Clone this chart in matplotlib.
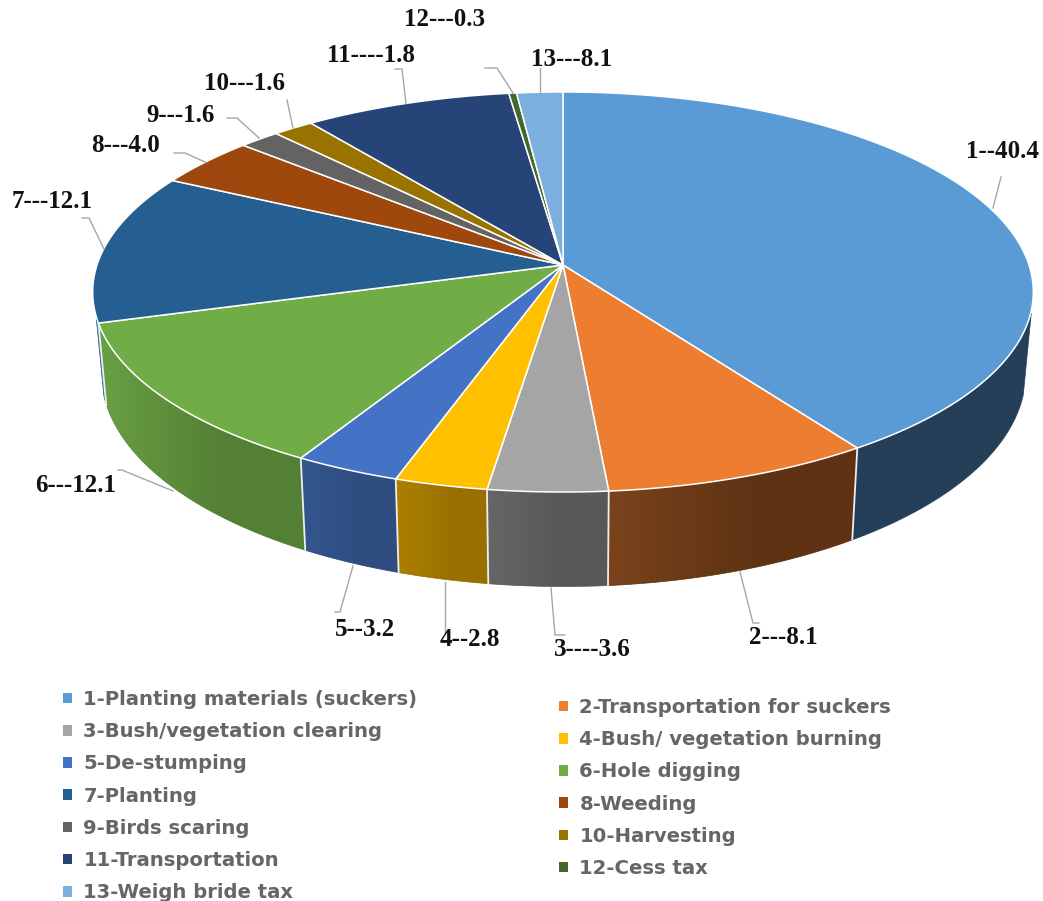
import numpy as np
import matplotlib
matplotlib.use("Agg")
import matplotlib.pyplot as plt
from matplotlib.collections import PolyCollection
from matplotlib.patches import Polygon, Patch

# ---- data ----
categories = ["1-Planting materials (suckers)", "2-Transportation for suckers",
              "3-Bush/vegetation clearing", "4-Bush/ vegetation burning",
              "5-De-stumping", "6-Hole digging", "7-Planting", "8-Weeding",
              "9-Birds scaring", "10-Harvesting", "11-Transportation",
              "12-Cess tax", "13-Weigh bride tax"]
# slice sizes as drawn (the source's labels for slices 11 and 13 are swapped)
drawn_values = [40.4, 8.1, 3.6, 2.8, 3.2, 12.1, 12.1, 4.0, 1.6, 1.6, 8.1, 0.3, 1.8]
value_labels = ["1--40.4", "2---8.1", "3----3.6", "4--2.8", "5--3.2", "6---12.1",
                "7---12.1", "8---4.0", "9---1.6", "10---1.6", "11----1.8",
                "12---0.3", "13---8.1"]

# ---- styles ----
top_colors = ["#5b9bd5", "#ed7d31", "#a5a5a5", "#ffc000", "#4472c4", "#70ad47",
              "#255e91", "#9e480e", "#636363", "#997300", "#264478", "#43682b", "#7cafdd"]
side_left = ["#243f57", "#7b431c", "#666666", "#ad8000", "#33568f", "#69a044",
             "#386da4", "#6b3109", "#444444", "#685000", "#1a2f52", "#2e471d", "#557a9b"]
side_right = ["#243f57", "#5e3213", "#585858", "#987000", "#2f4d80", "#548035",
              "#386da4", "#6b3109", "#444444", "#685000", "#1a2f52", "#2e471d", "#557a9b"]

label_pos = [(1003, 152), (783, 638), (592, 650), (470, 639), (365, 629), (76, 486),
             (52, 201), (126, 146), (181, 116), (244, 83), (371, 55), (445, 20), (572, 59)]
leaders = [[(993, 208), (1001, 177)],
           [(740, 572), (753, 623), (759, 623)],
           [(551, 588), (555, 635), (565, 635)],
           [(445, 582), (445, 633)],
           [(353, 566), (340, 612), (335, 612)],
           [(173, 491), (122, 470), (118, 470)],
           [(104, 249), (89, 218), (82, 218)],
           [(205, 162), (185, 153), (174, 153)],
           [(259, 138), (237, 118), (227, 118)],
           [(293, 128), (287, 100)],
           [(406, 103), (402, 69), (395, 69)],
           [(513, 93), (497, 68), (485, 68)],
           [(540, 93), (540, 68)]]

# perspective of the disc, in figure pixels
CX, CY, R = 563.0, 265.0, 466.0
A, C = 160.6, -0.135


def rim(t):
    """Top-rim point for clockwise angle t (radians) measured from the top."""
    u = -np.cos(t)
    w = C * u + 1
    return CX + R * np.sin(t) / w, (A * u + CY) / w


def base(t):
    """Point of the lower edge below the rim point."""
    x, y = rim(t)
    u = -np.cos(t)
    return CX + (x - CX) * 0.983, y + 77.5 + 16.5 * u


def mix(c1, c2, f):
    a = np.array(matplotlib.colors.to_rgb(c1))
    b = np.array(matplotlib.colors.to_rgb(c2))
    return a + (b - a) * f


fig = plt.figure(figsize=(10.43, 9.01), dpi=100, facecolor="white")
ax = fig.add_axes([0, 0, 1, 1])
ax.axis("off")

vals = np.array(drawn_values)
edges = np.concatenate([[0], np.cumsum(vals) / vals.sum() * 2 * np.pi])

# side wall (only the front-facing part)
lo, hi = np.radians(103.7), np.radians(256)
for i in range(len(vals)):
    a, b = max(edges[i], lo), min(edges[i + 1], hi)
    if a >= b:
        continue
    ts = np.linspace(a, b, max(int((b - a) / np.radians(0.5)), 2) + 1)
    xr, yr = rim(ts)
    xb, yb = base(ts)
    outline = np.column_stack([np.r_[xr, xb[::-1]], np.r_[yr, yb[::-1]]])
    # antialiased underlay gives a soft outer edge
    ax.add_collection(PolyCollection([outline], facecolors=[side_right[i]], edgecolors=[side_right[i]],
                                     linewidths=0.5, zorder=2))
    # horizontal gradient on screen, clipped to the wall piece
    x0, x1 = outline[:, 0].min(), outline[:, 0].max()
    y0, y1 = outline[:, 1].min(), outline[:, 1].max()
    fr = np.clip(np.linspace(0, 1, 64) / 0.6, 0, 1)
    grad = np.array([mix(side_left[i], side_right[i], f) for f in fr])[None, :, :]
    im = ax.imshow(grad, extent=(x0, x1, y1, y0), aspect="auto", interpolation="bilinear", zorder=2.5)
    clip = Polygon(outline, closed=True, transform=ax.transData)
    im.set_clip_path(clip)
    if lo < edges[i + 1] < hi:
        px0, py0 = rim(edges[i + 1]); px1, py1 = base(edges[i + 1])
        ax.plot([px0, px1], [py0, py1], color="#eeeeee", lw=1.3, zorder=3)

# top face
for i in range(len(vals)):
    ts = np.linspace(edges[i], edges[i + 1], max(int((edges[i + 1] - edges[i]) / np.radians(0.5)), 2) + 1)
    xs, ys = rim(ts)
    pts = np.column_stack([np.r_[CX, xs], np.r_[CY, ys]])
    ax.add_patch(Polygon(pts, closed=True, facecolor=top_colors[i], edgecolor="white",
                         linewidth=1.1, joinstyle="round", zorder=4))

# leaders and value labels
for line, pos, text in zip(leaders, label_pos, value_labels):
    xs, ys = zip(*line)
    ax.plot(xs, ys, color="#a6a6a6", lw=1.0, zorder=5)
    ax.text(pos[0], pos[1], text, ha="center", va="center", zorder=6,
            family="Liberation Serif", fontweight="bold", fontsize=18, color="#111111")

ax.set_xlim(0, 1043)
ax.set_ylim(901, 0)

# legends
common = dict(frameon=False, handlelength=0.46, handleheight=0.46, handletextpad=0.58,
              labelspacing=0.675, borderpad=0, borderaxespad=0, loc="upper left",
              bbox_transform=ax.transData,
              prop={"family": "DejaVu Sans", "weight": "bold", "size": 14.1}, labelcolor="#666666")


def proxies(idx):
    return [Patch(facecolor=top_colors[k], edgecolor="none", label=categories[k]) for k in idx]


leg1 = ax.legend(handles=proxies(range(0, 13, 2)), bbox_to_anchor=(63, 690), **common)
ax.add_artist(leg1)
ax.legend(handles=proxies(range(1, 13, 2)), bbox_to_anchor=(559, 698), **common)

fig.savefig("out.png", dpi=100, facecolor="white")
